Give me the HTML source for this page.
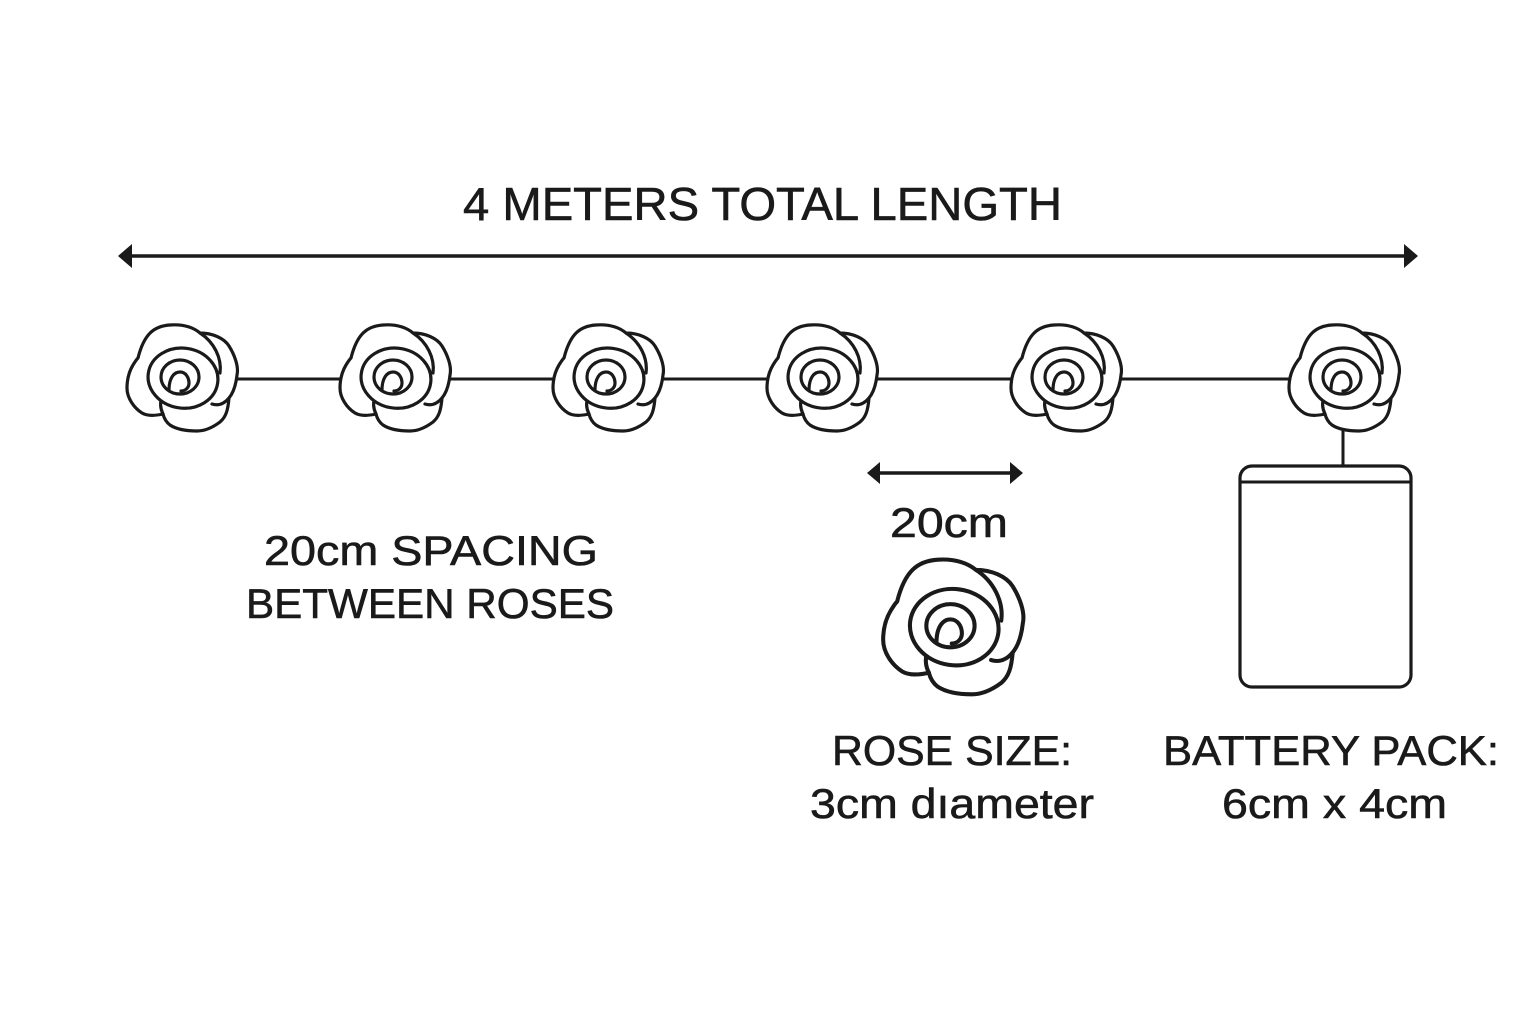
<!DOCTYPE html>
<html><head><meta charset="utf-8"><style>html,body{margin:0;padding:0;background:#fff}svg{display:block}</style></head>
<body>
<svg width="1536" height="1024" viewBox="0 0 1536 1024" xmlns="http://www.w3.org/2000/svg">
<defs>
<g id="rose" fill="#fff" stroke="#1a1a1a" stroke-width="3.2" stroke-linejoin="round" stroke-linecap="round">
<path d="M-44,-20 C-38,-44 -28,-52 -12,-53 C2,-54 12,-50 18,-45 C30,-45 42,-40 47,-32 C52,-24 57,-12 55,-3 C54,6 52,14 47,20 C46,32 44,39 38,44 C30,50 22,53 15,53 C4,53 -6,51 -12,47 C-16,44 -18,40 -19,36 C-28,38 -35,38 -40,35 C-48,30 -55,20 -55,10 C-55,0 -52,-8 -49,-13 C-47,-16 -46,-18 -44,-20 Z"/>
<path d="M18,-45 C32,-36 40,-20 38,-5" fill="none"/>
<path d="M47,20 C42,26 36,28 30,26" fill="none"/>
<path d="M-19,36 C-22,30 -22,24 -20,20" fill="none"/>
<ellipse cx="1" cy="0" rx="35" ry="30" transform="rotate(8)"/>
<ellipse cx="-2" cy="-1" rx="19" ry="17"/>
<path d="M-13,12 C-13,0 -8,-6 -2,-6 C4,-6 7,0 7,5 C7,10 3,13 -1,13" fill="none"/>
</g>
</defs>
<g font-family="Liberation Sans, sans-serif" fill="#1a1a1a" stroke="#1a1a1a" stroke-width="0.6" text-anchor="start">
<text x="463" y="220" font-size="46" textLength="599" lengthAdjust="spacingAndGlyphs">4 METERS TOTAL LENGTH</text>
<text x="264" y="565" font-size="42" textLength="334" lengthAdjust="spacingAndGlyphs">20cm SPACING</text>
<text x="246" y="618" font-size="42" textLength="368" lengthAdjust="spacingAndGlyphs">BETWEEN ROSES</text>
<text x="890" y="537" font-size="42" textLength="118" lengthAdjust="spacingAndGlyphs">20cm</text>
<text x="832" y="765" font-size="42" textLength="240" lengthAdjust="spacingAndGlyphs">ROSE SIZE:</text>
<text x="810" y="818" font-size="42" textLength="284" lengthAdjust="spacingAndGlyphs">3cm dıameter</text>
<text x="1163" y="765" font-size="42" textLength="336" lengthAdjust="spacingAndGlyphs">BATTERY PACK:</text>
<text x="1222" y="818" font-size="42" textLength="225" lengthAdjust="spacingAndGlyphs">6cm x 4cm</text>
</g>
<g stroke="#1a1a1a" stroke-width="3.5" fill="#1a1a1a">
<line x1="128" y1="256" x2="1408" y2="256"/>
<path d="M118,256 L132,244 L132,268 Z" stroke="none"/>
<path d="M1418,256 L1404,244 L1404,268 Z" stroke="none"/>
<line x1="878" y1="473" x2="1012" y2="473"/>
<path d="M867,473 L880,462 L880,484 Z" stroke="none"/>
<path d="M1023,473 L1010,462 L1010,484 Z" stroke="none"/>
<line x1="182" y1="379" x2="1344" y2="379" stroke-width="3"/>
<line x1="1343" y1="420" x2="1343" y2="468" stroke-width="3"/>
<rect x="1240" y="466" width="171" height="221" rx="12" fill="#fff" stroke-width="3.2"/>
<line x1="1240" y1="482" x2="1411" y2="482" stroke-width="3"/>
</g>
<use href="#rose" x="182" y="378"/>
<use href="#rose" x="395" y="378"/>
<use href="#rose" x="608" y="378"/>
<use href="#rose" x="822" y="378"/>
<use href="#rose" x="1066" y="378"/>
<use href="#rose" x="1344" y="378"/>
<use href="#rose" transform="translate(953,627) scale(1.27)"/>
</svg>
</body></html>
